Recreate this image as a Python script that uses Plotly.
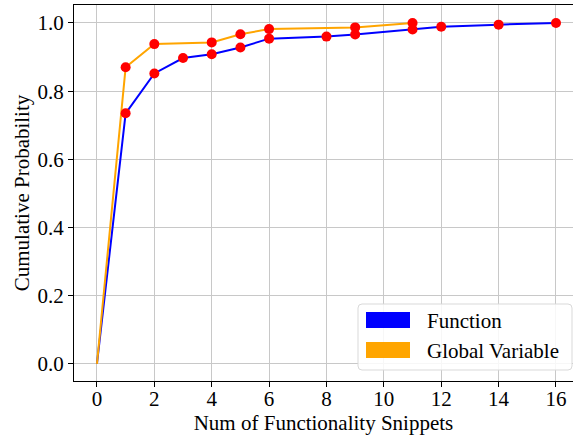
import plotly.graph_objects as go

# ---- data ----
func_x = [0, 1, 2, 3, 4, 5, 6, 8, 9, 11, 12, 14, 16]
func_y = [0.0, 0.735, 0.852, 0.897, 0.908, 0.928, 0.954, 0.960, 0.966, 0.981, 0.989, 0.995, 1.0]
glob_x = [0, 1, 2, 4, 5, 6, 9, 11]
glob_y = [0.0, 0.870, 0.938, 0.943, 0.967, 0.982, 0.987, 1.0]
x_ticks = [0, 2, 4, 6, 8, 10, 12, 14, 16]
y_ticks = [0.0, 0.2, 0.4, 0.6, 0.8, 1.0]
legend_labels = ["Function", "Global Variable"]
colors = ["#0000ff", "#ffa500"]

W, H = 573, 438
L, T, B = 74, 5, 57
PW, PH = W - L, H - T - B

FONT = "Liberation Serif, Times New Roman, serif"
FS = 21

fig = go.Figure()
fig.add_trace(go.Scatter(x=func_x, y=func_y, mode="lines",
                         line=dict(color=colors[0], width=2), showlegend=False))
fig.add_trace(go.Scatter(x=glob_x, y=glob_y, mode="lines",
                         line=dict(color=colors[1], width=2), showlegend=False))
fig.add_trace(go.Scatter(x=func_x[1:], y=func_y[1:], mode="markers",
                         marker=dict(color="red", size=10), showlegend=False))
fig.add_trace(go.Scatter(x=glob_x[1:], y=glob_y[1:], mode="markers",
                         marker=dict(color="red", size=10), showlegend=False))


def px(xp):
    return (xp - L) / PW


def py(yp):
    return (H - B - yp) / PH


# manual legend box (rounded)
x0, x1, y0, y1 = px(358), px(572), py(304), py(370)
rx, ry = 4 / PW, 4 / PH
path = (f"M {x0+rx},{y0} L {x1-rx},{y0} Q {x1},{y0} {x1},{y0-ry} "
        f"L {x1},{y1+ry} Q {x1},{y1} {x1-rx},{y1} L {x0+rx},{y1} "
        f"Q {x0},{y1} {x0},{y1+ry} L {x0},{y0-ry} Q {x0},{y0} {x0+rx},{y0} Z")
shapes = [dict(type="path", path=path, xref="paper", yref="paper",
               fillcolor="rgba(255,255,255,0.85)", line=dict(color="#d9d9d9", width=1))]
annotations = []
for i, (lab, c) in enumerate(zip(legend_labels, colors)):
    top = 312 + i * 30
    shapes.append(dict(type="rect", xref="paper", yref="paper",
                       x0=px(366), x1=px(410), y0=py(top), y1=py(top + 16),
                       fillcolor=c, line=dict(width=0)))
    annotations.append(dict(x=px(425), y=py(top + 9), xref="paper", yref="paper",
                            text=lab, showarrow=False, xanchor="left", yanchor="middle",
                            font=dict(family=FONT, size=FS, color="black")))

fig.update_layout(
    width=W, height=H,
    margin=dict(l=L, r=0, t=T, b=B, autoexpand=False),
    plot_bgcolor="white", paper_bgcolor="white",
    font=dict(family=FONT, color="black"),
    shapes=shapes, annotations=annotations,
    showlegend=False,
)
fig.update_xaxes(
    range=[-0.8, -0.8 + PW / 28.69], tickvals=x_ticks,
    ticks="outside", ticklen=5, tickcolor="black",
    showline=True, linecolor="black", linewidth=1, mirror=True,
    showgrid=True, gridcolor="#c8c8c8", gridwidth=1, zeroline=False,
    tickfont=dict(size=FS), automargin=False, ticklabelstandoff=-6,
    title=dict(text="Num of Functionality Snippets", font=dict(size=FS), standoff=2),
)
fig.update_yaxes(
    range=[-0.05, -0.05 + PH / 341], tickvals=y_ticks, tickformat=".1f",
    ticks="outside", ticklen=5, tickcolor="black",
    showline=True, linecolor="black", linewidth=1,
    showgrid=True, gridcolor="#c8c8c8", gridwidth=1, zeroline=False,
    tickfont=dict(size=FS), automargin=False,
    title=dict(text="Cumulative Probability", font=dict(size=FS), standoff=2),
)

fig.write_html("out.html", config={"displayModeBar": False},
               post_script="document.body.style.margin='0';")
